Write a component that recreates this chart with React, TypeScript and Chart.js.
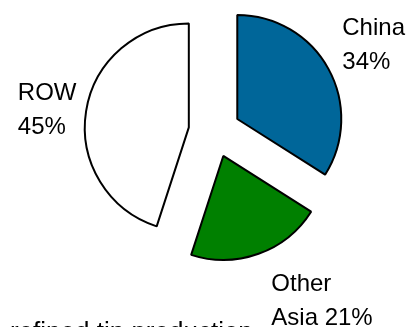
import React, { useEffect, useRef } from "react";
import { Chart, registerables } from "chart.js";

Chart.register(...registerables);

// ---- data ----
const categories = ["China", "Other Asia", "ROW"];
const shares = [34, 21, 45];
const labelLines = [
  ["China", "34%"],
  ["Other", "Asia 21%"],
  ["ROW", "45%"],
];
const sliceColors = ["#006699", "#008000", "#FFFFFF"];
const footerText = "refined tin production";

// ---- layout / style ----
const EXPLODE = 26;
const LABEL_OFFSETS: [number, number][] = [
  [105, -84],
  [48, 135],
  [-171, -27],
];
const LINE_PITCH = 34;
const FONT_FAMILY = "'Liberation Sans', Arial, sans-serif";

const explodePlugin = {
  id: "explodeSlices",
  afterDatasetUpdate(chart: any, args: any) {
    args.meta.data.forEach((arc: any) => {
      const mid = (arc.startAngle + arc.endAngle) / 2;
      arc.x += Math.cos(mid) * EXPLODE;
      arc.y += Math.sin(mid) * EXPLODE;
    });
  },
};

const labelPlugin = {
  id: "sliceLabels",
  afterDraw(chart: any) {
    const ctx = chart.ctx;
    const meta = chart.getDatasetMeta(0);
    ctx.save();
    ctx.fillStyle = "#000";
    ctx.textAlign = "left";
    ctx.textBaseline = "alphabetic";
    ctx.font = `24px ${FONT_FAMILY}`;
    meta.data.forEach((arc: any, i: number) => {
      const [dx, dy] = LABEL_OFFSETS[i];
      labelLines[i].forEach((line, k) => {
        ctx.fillText(line, arc.x + dx, arc.y + dy + k * LINE_PITCH);
      });
    });
    ctx.font = `26px ${FONT_FAMILY}`;
    ctx.fillText(footerText, 10, 340);
    ctx.restore();
  },
};

export default function App() {
  const canvasRef = useRef<HTMLCanvasElement | null>(null);

  useEffect(() => {
    const canvas = canvasRef.current;
    if (!canvas) return;
    const chart = new Chart(canvas, {
      type: "pie",
      data: {
        labels: categories,
        datasets: [
          {
            data: shares,
            backgroundColor: sliceColors,
            borderColor: "#000000",
            borderWidth: 2,
            radius: 104,
          },
        ],
      },
      options: {
        responsive: false,
        animation: false,
        layout: { padding: { left: 20, right: 0, top: 0, bottom: 64 } },
        plugins: {
          legend: { display: false },
          tooltip: { enabled: false },
          title: { display: false },
        },
      },
      plugins: [explodePlugin, labelPlugin],
    });
    return () => chart.destroy();
  }, []);

  return (
    <div style={{ position: "fixed", left: 0, top: 0, width: 409, height: 327, background: "#fff" }}>
      <canvas ref={canvasRef} width={409} height={327} style={{ display: "block" }} />
    </div>
  );
}
